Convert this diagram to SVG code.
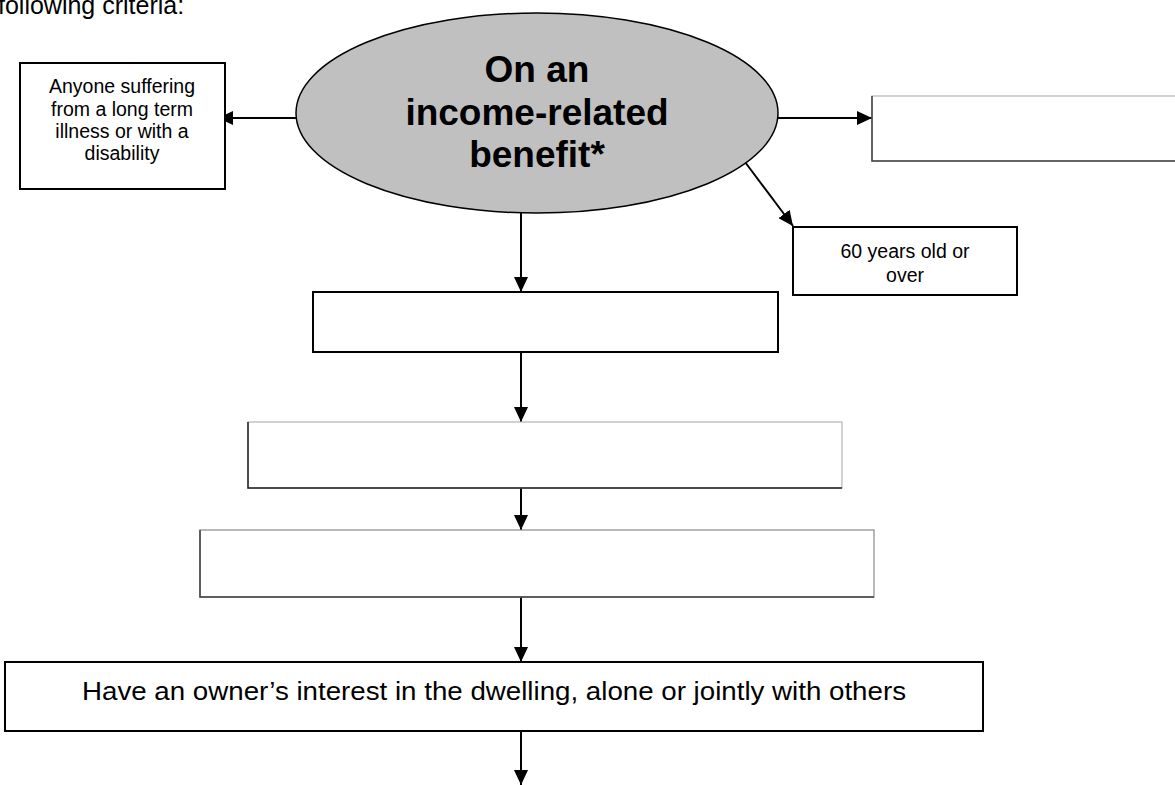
<svg xmlns="http://www.w3.org/2000/svg" width="1175" height="785" viewBox="0 0 1175 785">
  <style>
    .t { font-family: "Liberation Sans", Arial, sans-serif; fill: #000; text-anchor: middle; }
    .sm { font-size: 19.5px; }
    .big { font-size: 37px; font-weight: bold; }
    .box { fill: #fff; stroke: #000; stroke-width: 2; }
    .gbox { fill: #fff; stroke: #b4b4b4; stroke-width: 1.2; }
    .gedge { fill: none; stroke: #404040; stroke-width: 1.5; }
    .conn { stroke: #000; stroke-width: 2; fill: none; marker-end: url(#arr); }
  </style>
  <defs>
    <marker id="arr" viewBox="0 0 15 14" refX="15" refY="7" markerWidth="15" markerHeight="14" markerUnits="userSpaceOnUse" orient="auto">
      <path d="M0,0 L15,7 L0,14 Z" fill="#000"/>
    </marker>
  </defs>
  <rect x="0" y="0" width="1175" height="785" fill="#fff"/>

  <text x="-2" y="14" style="font-family: 'Liberation Sans', Arial, sans-serif; font-size: 25px;">following criteria:</text>

  <g id="connectors">
    <line class="conn" x1="298" y1="118" x2="218" y2="118"/>
    <line class="conn" x1="778" y1="118" x2="872" y2="118"/>
    <line class="conn" x1="745" y1="162" x2="793" y2="226"/>
    <line class="conn" x1="521" y1="203" x2="521" y2="292"/>
    <line class="conn" x1="521" y1="352" x2="521" y2="422"/>
    <line class="conn" x1="521" y1="488" x2="521" y2="530"/>
    <line class="conn" x1="521" y1="597" x2="521" y2="662"/>
    <line class="conn" x1="521" y1="731" x2="521" y2="785"/>
  </g>

  <g id="node-benefit">
    <ellipse cx="537" cy="113" rx="241" ry="100" fill="#c0c0c0" stroke="#000" stroke-width="1.5"/>
    <text class="t big" x="537" y="82">On an</text>
    <text class="t big" x="537" y="125">income-related</text>
    <text class="t big" x="537" y="167">benefit*</text>
  </g>

  <g id="node-illness">
    <rect class="box" x="20" y="63" width="205" height="126"/>
    <text class="t sm" x="122" y="93">Anyone suffering</text>
    <text class="t sm" x="122" y="116">from a long term</text>
    <text class="t sm" x="122" y="138">illness or with a</text>
    <text class="t sm" x="122" y="160">disability</text>
  </g>

  <g id="node-right">
    <rect class="gbox" x="872" y="96" width="310" height="65"/>
    <path class="gedge" d="M872,96 V161 H1175"/>
  </g>

  <g id="node-age">
    <rect class="box" x="793" y="227" width="224" height="68"/>
    <text class="t sm" x="905" y="258">60 years old or</text>
    <text class="t sm" x="905" y="282">over</text>
  </g>

  <g id="node-box1">
    <rect class="box" x="313" y="292" width="465" height="60"/>
  </g>

  <g id="node-box2">
    <rect class="gbox" x="248" y="422" width="594" height="66"/>
    <path class="gedge" d="M248,422 V488 H842" style="stroke:#202020"/>
  </g>

  <g id="node-box3">
    <rect class="gbox" x="200" y="530" width="674" height="67" style="stroke:#8a8a8a"/>
    <path class="gedge" d="M200,530 V597 H874"/>
  </g>

  <g id="node-owner">
    <rect class="box" x="5" y="662" width="978" height="69"/>
    <text class="t" x="494" y="700" textLength="824" lengthAdjust="spacingAndGlyphs" style="font-size:26px;">Have an owner’s interest in the dwelling, alone or jointly with others</text>
  </g>
</svg>
